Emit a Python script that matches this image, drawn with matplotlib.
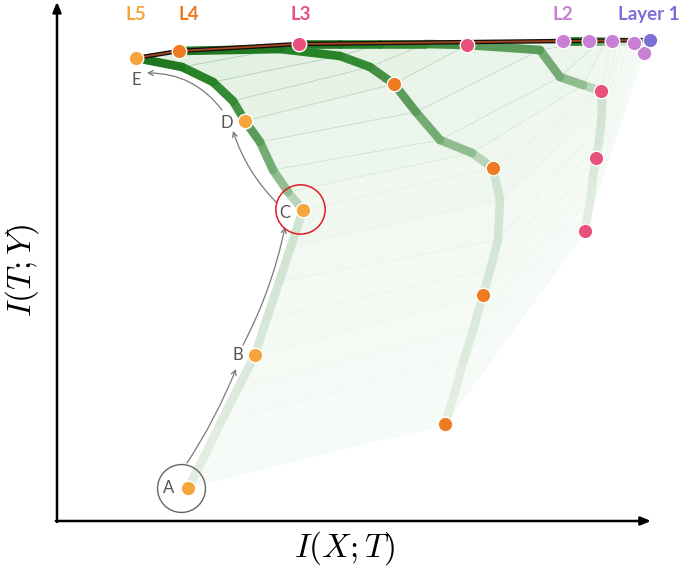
import numpy as np
import matplotlib
matplotlib.use("Agg")
import matplotlib.pyplot as plt
import matplotlib.transforms as mtransforms
from matplotlib.collections import LineCollection
from matplotlib.colors import LinearSegmentedColormap

plt.rcParams["mathtext.fontset"] = "cm"

# Snapshot labels along training (empty = unlabelled epoch)
epoch_labels = ["A", "", "", "", "B", "", "", "", "C", "", "", "", "D", "", "", "", "E"]

layer_names = ["Layer 1", "L2", "L3", "L4", "L5"]
layer_colors = ["#7b6fd8", "#c97fd4", "#e8527a", "#ee7a22", "#f5a53a"]

# Information-plane coordinates per layer and epoch: I(X;T), I(T;Y)
l1_ixt = [11.86] * 17
l1_ity = [0.962] * 17

l2_ixt = [11.74, 11.70, 11.66, 11.60, 11.54, 11.44, 11.32, 11.22, 11.10,
          10.98, 10.86, 10.76, 10.64, 10.50, 10.38, 10.24, 10.12]
l2_ity = [0.936, 0.942, 0.946, 0.952, 0.956, 0.958, 0.960, 0.960, 0.960,
          0.960, 0.960, 0.960, 0.960, 0.960, 0.960, 0.960, 0.960]

l3_ixt = [10.56, 10.62, 10.68, 10.72, 10.78, 10.84, 10.88, 10.90, 10.88,
          10.52, 10.06, 9.66, 8.20, 7.36, 6.46, 5.66, 4.84]
l3_ity = [0.580, 0.616, 0.652, 0.690, 0.726, 0.760, 0.794, 0.828, 0.860,
          0.872, 0.888, 0.942, 0.952, 0.954, 0.954, 0.954, 0.954]

l4_ixt = [7.76, 7.96, 8.14, 8.34, 8.52, 8.66, 8.82, 8.86, 8.72,
          8.30, 7.66, 7.18, 6.74, 6.26, 5.66, 4.46, 2.44]
l4_ity = [0.194, 0.258, 0.324, 0.388, 0.452, 0.502, 0.562, 0.642, 0.706,
          0.736, 0.762, 0.818, 0.874, 0.908, 0.930, 0.944, 0.940]

l5_ixt = [2.62, 2.96, 3.28, 3.62, 3.96, 4.20, 4.44, 4.68, 4.92,
          4.62, 4.32, 4.06, 3.76, 3.52, 3.12, 2.50, 1.58]
l5_ity = [0.066, 0.132, 0.198, 0.266, 0.332, 0.406, 0.478, 0.550, 0.622,
          0.658, 0.702, 0.758, 0.800, 0.840, 0.878, 0.908, 0.926]

ixt = np.array([l1_ixt, l2_ixt, l3_ixt, l4_ixt, l5_ixt])
ity = np.array([l1_ity, l2_ity, l3_ity, l4_ity, l5_ity])
n_layers, n_epochs = ixt.shape
snap_idx = [i for i, s in enumerate(epoch_labels) if s]

epoch_cmap = LinearSegmentedColormap.from_list(
    "epoch", [(0.0, "#e4efe4"), (0.5, "#cfe2cf"), (0.6, "#8cbc8c"), (0.75, "#4f944f"),
              (0.88, "#2c862c"), (1.0, "#1c741c")]
)

fig = plt.figure(figsize=(6.82, 5.74), dpi=100)
ax = fig.add_axes([57 / 682, 53 / 574, 600 / 682, 511 / 574])
ax.set_xlim(0, 12)
ax.set_ylim(0, 1.022)
ax.set_axis_off()

# shaded fan between consecutive epoch snapshots of the whole network
for k in range(n_epochs - 1):
    poly_x = np.concatenate([ixt[:, k], ixt[::-1, k + 1]])
    poly_y = np.concatenate([ity[:, k], ity[::-1, k + 1]])
    f = k / (n_epochs - 2)
    ax.fill(poly_x, poly_y, color="#cfe7cf", alpha=0.16 + 0.45 * f ** 1.6, lw=0, zorder=1)

# thin lines linking the layers at each epoch
for k in range(n_epochs):
    f = k / (n_epochs - 1)
    ax.plot(ixt[:, k], ity[:, k], color=epoch_cmap(f), lw=0.5, alpha=0.35, zorder=2)

# per-layer trajectories, coloured by epoch
for li in range(1, n_layers):
    pts = np.column_stack([ixt[li], ity[li]])
    segs = np.stack([pts[:-1], pts[1:]], axis=1)
    cols = [epoch_cmap((k + 0.5) / (n_epochs - 1)) for k in range(n_epochs - 1)]
    lc = LineCollection(segs, colors=cols, linewidths=6.2, capstyle="round", joinstyle="round", zorder=3)
    ax.add_collection(lc)

# final-epoch snapshot
ax.plot(ixt[:, -1], ity[:, -1], color="#111111", lw=3.2, solid_capstyle="round", zorder=4)
ax.plot(ixt[:, -1], ity[:, -1], color="#a8441c", lw=1.3, solid_capstyle="round", zorder=5)

# layer markers at the labelled snapshots
for li in range(n_layers - 1, -1, -1):
    idx = snap_idx if li > 0 else [n_epochs - 1]
    ax.plot(ixt[li, idx], ity[li, idx], "o", ms=10.5, mfc=layer_colors[li], mec="white",
            mew=1.0, zorder=6, clip_on=False)

# layer names above the final positions
name_dx = [-1, 0, 1, 7, 0]
for li in range(n_layers):
    ax.annotate(layer_names[li], xy=(ixt[li, -1], 0.992), xycoords=("data", "axes fraction"),
                xytext=(name_dx[li], 0), textcoords="offset points", ha="center", va="center",
                fontsize=13.5, fontweight="bold", color=layer_colors[li], family="Lato",
                annotation_clip=False)

fig.canvas.draw()
W, H = fig.canvas.get_width_height()


def px(x, y, dx=0.0, dy=0.0):
    X, Y = ax.transData.transform((x, y))
    return (X + dx, Y - dy)


l5 = 4
letter_off = {"A": (-19, 0), "B": (-17, 0), "C": (-18, 3), "D": (-18, 2), "E": (0, 22)}
for k in snap_idx:
    s = epoch_labels[k]
    ox, oy = letter_off[s]
    X, Y = px(ixt[l5, k], ity[l5, k], ox, oy)
    fig.text(X / W, Y / H, s, ha="center", va="center", fontsize=12, color="#555555", family="Lato")

# arrows tracing the L5 trajectory
arrow_specs = [
    (0, (-1, -25), 4, (-19, 14), 0.05),
    (4, (-12, -10), 8, (-18, 17), 0.07),
    (8, (-26, -7), 12, (-12, 10), -0.12),
    (12, (-23, -11), 16, (11, 15), 0.25),
]
for k0, o0, k1, o1, rad in arrow_specs:
    ax.annotate("", xy=px(ixt[l5, k1], ity[l5, k1], *o1), xycoords="figure pixels",
                xytext=px(ixt[l5, k0], ity[l5, k0], *o0), textcoords="figure pixels",
                arrowprops=dict(arrowstyle="->,head_length=0.35,head_width=0.18", color="#7a7a7a",
                                lw=0.9, connectionstyle=f"arc3,rad={rad}", shrinkA=0, shrinkB=0),
                annotation_clip=False)

# rings around the first snapshot and the turning point
ax.plot([ixt[l5, 0]], [ity[l5, 0]], "o", ms=34.5, mfc="none", mec="#666666", mew=1.0, zorder=7,
        transform=ax.transData + mtransforms.ScaledTranslation(-7 / 100, 0, fig.dpi_scale_trans))
ax.plot([ixt[l5, 8]], [ity[l5, 8]], "o", ms=35.5, mfc="none", mec="#e01b24", mew=1.1, zorder=7,
        transform=ax.transData + mtransforms.ScaledTranslation(-3 / 100, 1 / 100, fig.dpi_scale_trans))

# axes with arrow heads
ax.annotate("", xy=(0.99, 0), xytext=(-0.002, 0), xycoords="axes fraction",
            arrowprops=dict(arrowstyle="-|>,head_length=0.6,head_width=0.25", color="black", lw=1.8,
                            shrinkA=0, shrinkB=0), annotation_clip=False)
ax.annotate("", xy=(0, 1.016), xytext=(0, -0.002), xycoords="axes fraction",
            arrowprops=dict(arrowstyle="-|>,head_length=0.6,head_width=0.25", color="black", lw=1.8,
                            shrinkA=0, shrinkB=0), annotation_clip=False)

fig.text(345 / 682, 1 - 548 / 574, r"$I(X;T)$", ha="center", va="center", fontsize=24)
fig.text(22 / 682, 1 - 270 / 574, r"$I(T;Y)$", ha="center", va="center", fontsize=24, rotation=90)

fig.savefig("out.png", dpi=100, facecolor="white")
